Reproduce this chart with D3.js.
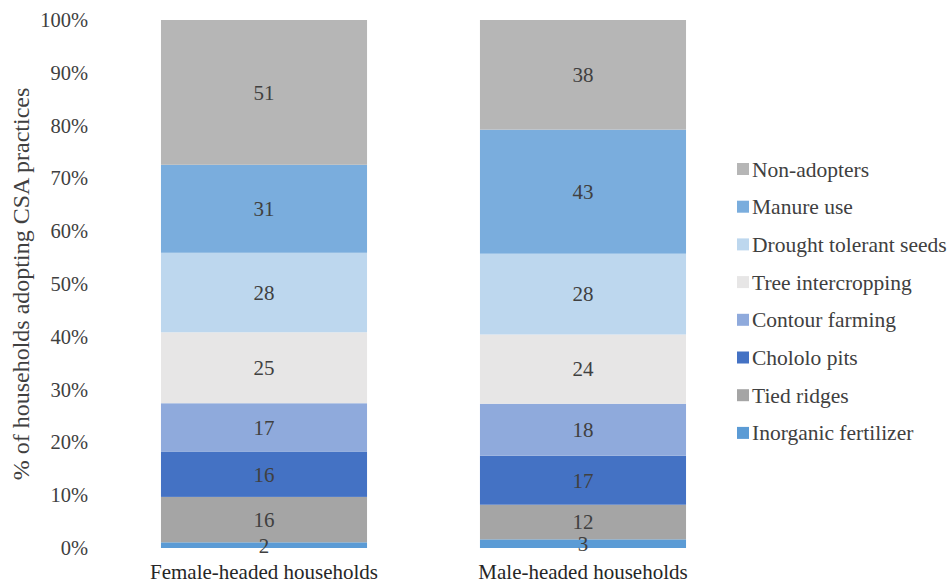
<!DOCTYPE html>
<html>
<head>
<meta charset="utf-8">
<script src="https://cdn.jsdelivr.net/npm/d3@7"></script>
</head>
<body style="margin:0;background:#fff">
<svg id="chart" width="950" height="583"></svg>
<script>
// Household groups (x categories)
const groups = ["Female-headed households", "Male-headed households"];

// Practices, stacked from the bottom upward
const practices = ["Inorganic fertilizer", "Tied ridges", "Chololo pits", "Contour farming",
                   "Tree intercropping", "Drought tolerant seeds", "Manure use", "Non-adopters"];

// Counts per practice for each group
const femaleCounts = [2, 16, 16, 17, 25, 28, 31, 51];
const maleCounts   = [3, 12, 17, 18, 24, 28, 43, 38];

const colors = ["#5b9bd5", "#a5a5a5", "#4472c4", "#8faadc",
                "#e7e6e6", "#bdd7ee", "#7aaddd", "#b6b6b6"];

const yTicks = [0, 0.1, 0.2, 0.3, 0.4, 0.5, 0.6, 0.7, 0.8, 0.9, 1.0];

const FONT = "Liberation Serif";
const svg = d3.select("#chart");
const plotTop = 20, plotBottom = 548;

const x = d3.scaleBand().domain(groups).range([101, 746]).paddingInner(0.354).paddingOuter(0.188);
const y = d3.scaleLinear().domain([0, 1]).range([plotBottom, plotTop]);
const color = d3.scaleOrdinal().domain(practices).range(colors);

// Build rows of shares (100% stacked)
const rows = groups.map((g, i) => {
  const vals = i === 0 ? femaleCounts : maleCounts;
  const total = d3.sum(vals);
  const row = { group: g };
  practices.forEach((p, j) => { row[p] = vals[j] / total; row[p + "_n"] = vals[j]; });
  return row;
});

const series = d3.stack().keys(practices)(rows);

// Bars
const layers = svg.append("g").selectAll("g").data(series).join("g")
  .attr("fill", d => color(d.key));
layers.selectAll("rect").data(d => d).join("rect")
  .attr("x", s => x(s.data.group))
  .attr("width", x.bandwidth())
  .attr("y", s => y(s[1]))
  .attr("height", s => y(s[0]) - y(s[1]));

// Value labels
const labels = svg.append("g");
series.forEach(layer => {
  layer.forEach(s => {
    labels.append("text")
      .style("font-family", FONT).attr("font-size", 21)
      .attr("fill", "#404040").attr("text-anchor", "middle")
      .attr("x", x(s.data.group) + x.bandwidth() / 2)
      .attr("y", (y(s[0]) + y(s[1])) / 2)
      .attr("dy", "0.35em")
      .text(s.data[layer.key + "_n"]);
  });
});

// Y axis (labels only)
const yAxis = d3.axisLeft(y).tickValues(yTicks).tickFormat(d3.format(".0%")).tickSize(0).tickPadding(0);
const yg = svg.append("g").attr("transform", "translate(88,0)").call(yAxis);
yg.select(".domain").remove();
yg.selectAll("text").style("font-family", FONT).attr("font-size", 20.5).attr("fill", "#404040");

// X axis (labels only)
const xAxis = d3.axisBottom(x).tickSize(0).tickPadding(0);
const xg = svg.append("g").attr("transform", `translate(0,${plotBottom + 16})`).call(xAxis);
xg.select(".domain").remove();
xg.selectAll("text").style("font-family", FONT).attr("font-size", 21)
  .attr("fill", "#262626").attr("dy", "0.71em");

// Y axis title
svg.append("text")
  .attr("transform", `translate(21,284) rotate(-90)`)
  .attr("text-anchor", "middle")
  .attr("dy", "0.35em")
  .style("font-family", FONT).attr("font-size", 24)
  .attr("fill", "#404040")
  .text("% of households adopting CSA practices");

// Legend (top entry is the top of the stack)
const legendItems = practices.slice().reverse();
const legend = svg.append("g").attr("transform", "translate(737,169)");
legendItems.forEach((p, i) => {
  const gItem = legend.append("g").attr("transform", `translate(0,${i * 37.7})`);
  gItem.append("rect").attr("x", 0).attr("y", -6).attr("width", 12).attr("height", 12).attr("fill", color(p));
  gItem.append("text").attr("x", 15).attr("y", 0).attr("dy", "0.35em")
    .style("font-family", FONT).attr("font-size", 21.5).attr("fill", "#404040").text(p);
});
</script>
</body>
</html>
